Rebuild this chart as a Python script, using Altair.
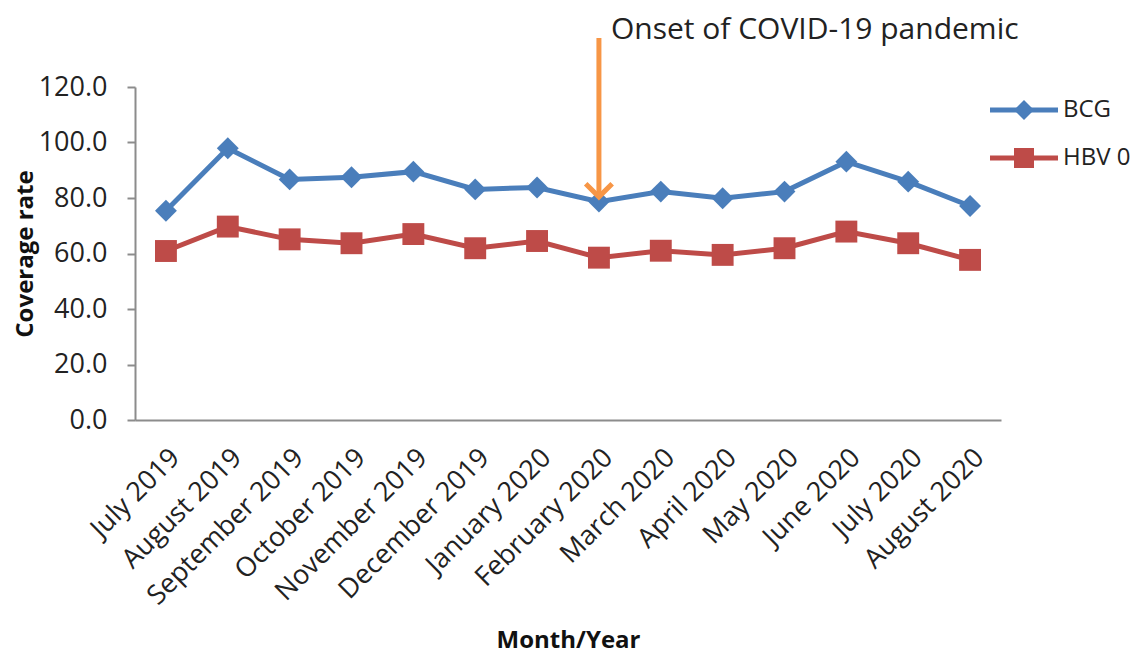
import altair as alt
import pandas as pd

months = ["July 2019", "August 2019", "September 2019", "October 2019", "November 2019",
          "December 2019", "January 2020", "February 2020", "March 2020", "April 2020",
          "May 2020", "June 2020", "July 2020", "August 2020"]
bcg = [75.4, 97.9, 86.7, 87.5, 89.5, 83.1, 83.8, 78.7, 82.3, 79.9, 82.3, 93.1, 85.9, 77.1]
hbv0 = [60.9, 69.7, 65.1, 63.7, 67.0, 61.9, 64.5, 58.5, 61.0, 59.5, 61.9, 67.9, 63.7, 57.7]
series_names = ["BCG", "HBV 0"]
series_colors = ["#4A7EBB", "#BE4B48"]
y_ticks = [0, 20, 40, 60, 80, 100, 120]

onset_month = ["February 2020"]
arrow_top = [137.7]
arrow_tip = [80.4]
label_level = [140.4]
onset_label = ["Onset of COVID-19 pandemic"]

FONT = "Open Sans"
TXT = "#222222"

df = pd.DataFrame({
    "month": months * 2,
    "value": bcg + hbv0,
    "series": [series_names[0]] * len(months) + [series_names[1]] * len(months),
})
arrow_df = pd.DataFrame({"month": onset_month, "top": arrow_top, "tip": arrow_tip,
                         "lab": label_level, "label": onset_label})
leg_df = pd.DataFrame({"series": series_names})

xscale = alt.Scale(type="point", padding=0.5)
xenc = alt.X("month:N", sort=months, title="Month/Year", scale=xscale,
             axis=alt.Axis(labelAngle=-45, ticks=False, labelPadding=24, labelLimit=0,
                           titleY=220, titleBaseline="middle"))
xplain = alt.X("month:N", sort=months, scale=xscale)
yscale = alt.Scale(domain=[0, 120])
yenc = alt.Y("value:Q", scale=yscale, title="Coverage rate",
             axis=alt.Axis(values=y_ticks, format=".1f", grid=False, tickSize=8,
                           labelPadding=20, titleX=-110, titleBaseline="middle"))
color = alt.Color("series:N", scale=alt.Scale(domain=series_names, range=series_colors),
                  legend=None)
shape = alt.Shape("series:N", scale=alt.Scale(domain=series_names, range=["diamond", "square"]),
                  legend=None)

lines = alt.Chart(df).mark_line(strokeWidth=5).encode(x=xenc, y=yenc, color=color,
                                                       detail="series:N")
points = alt.Chart(df).mark_point(filled=True, opacity=1, size=480).encode(
    x=xenc, y=yenc, color=color, shape=shape)

arrow = alt.Chart(arrow_df).mark_rule(color="#F79646", strokeWidth=5).encode(
    x=xplain, y=alt.Y("top:Q", scale=yscale), y2="tip:Q")
head = alt.Chart(arrow_df).mark_point(shape="M-1,-1L0,0L1,-1", filled=False,
                                      color="#F79646", strokeWidth=5, size=700,
                                      opacity=1).encode(
    x=xplain, y=alt.Y("tip:Q", scale=yscale))
annot = alt.Chart(arrow_df).mark_text(align="left", baseline="middle", dx=12,
                                      font=FONT, fontSize=30, color=TXT).encode(
    x=xplain, y=alt.Y("lab:Q", scale=yscale), text="label:N")

main = alt.layer(lines, points, arrow, head, annot)

legy = alt.Y("series:N", scale=alt.Scale(domain=series_names, range=[23, 71], type="point",
                                         padding=0), axis=None)
leg_rule = alt.Chart(leg_df).mark_rule(strokeWidth=5).encode(
    x=alt.value(855), x2=alt.value(923), y=legy, color=color)
leg_point = alt.Chart(leg_df).mark_point(filled=True, opacity=1, size=400).encode(
    x=alt.value(889), y=legy, color=color, shape=shape)
leg_text = alt.Chart(leg_df).mark_text(align="left", baseline="middle", font=FONT,
                                       fontSize=24, color=TXT).encode(
    x=alt.value(928), y=legy, text="series:N")
legend = alt.layer(leg_rule, leg_point, leg_text)

chart = alt.layer(main, legend).resolve_scale(y="independent").properties(
    width=866, height=333,
    autosize=alt.AutoSizeParams(type="none"),
    padding={"left": 127, "top": 79, "right": 130, "bottom": 236}
).configure_view(stroke=None).configure_axis(
    domainColor="#8C8C8C", domainWidth=2, tickColor="#8C8C8C", tickWidth=2,
    labelFont=FONT, labelFontSize=27, labelColor=TXT,
    titleFont=FONT, titleFontSize=24, titleFontWeight="bold", titleColor="#111111"
)

chart.save("out.html", embed_options={"renderer": "svg", "actions": False})
